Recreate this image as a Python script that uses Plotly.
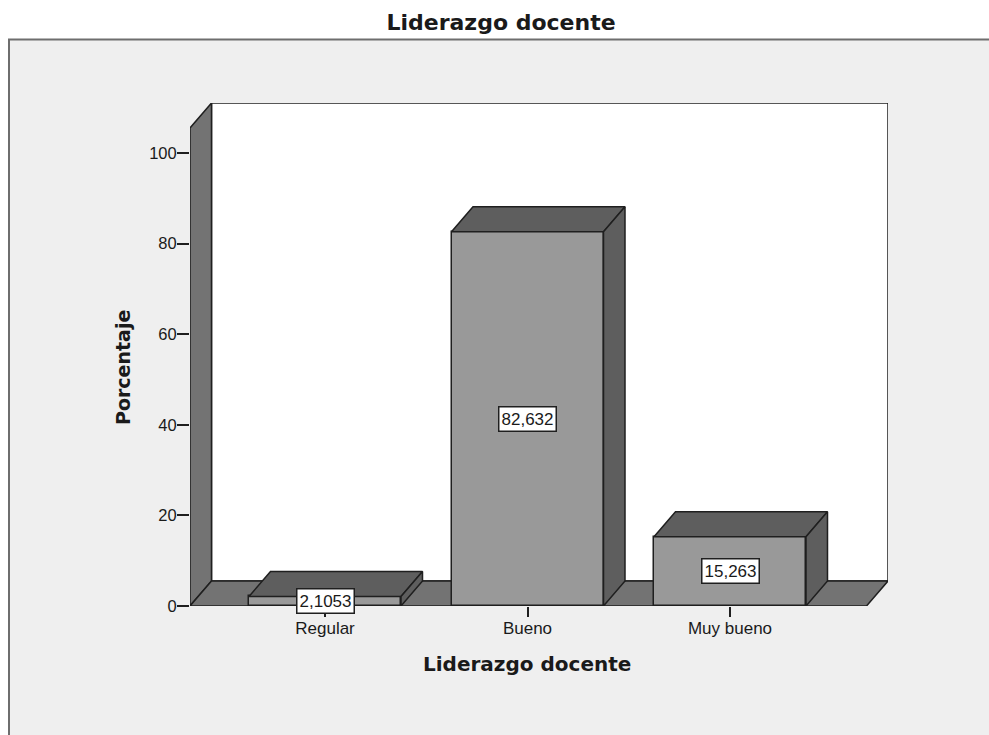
import plotly.graph_objects as go

categories = ["Regular", "Bueno", "Muy bueno"]
values = [2.1053, 82.632, 15.263]
value_labels = ["2,1053", "82,632", "15,263"]
y_ticks = [0, 20, 40, 60, 80, 100]
chart_title = "Liderazgo docente"
x_title = "Liderazgo docente"
y_title = "Porcentaje"

W, H = 989, 735
L, R, T, B = 190, 888, 103, 606
XMIN, XMAX = (190 - 325) / 202.5, (888 - 325) / 202.5
YMAX = (606 - 103) / 4.53
DX, DY = 21.5 / 202.5, 25 / 4.53
BAR_W = 152 / 202.5
WALL_TOP = YMAX - DY
FONT = "Liberation Sans"
BOLD = "DejaVu Sans"
EDGE = "#1f1f1f"
TEXT = "#1a1a1a"

def px(xp):
    return (xp - L) / (R - L)

def py(yp):
    return (B - yp) / (B - T)

def poly(pts):
    return "M" + " L".join(f"{a},{b}" for a, b in pts) + " Z"

x_pos = list(range(len(categories)))
fig = go.Figure()

fig.add_trace(go.Bar(
    x=x_pos, y=values, width=BAR_W, marker=dict(color="#999999", line=dict(color=EDGE, width=1.5)),
    showlegend=False, hoverinfo="skip"))

for xc, v in zip(x_pos, values):
    l, r = xc - BAR_W / 2, xc + BAR_W / 2
    top = [(l, v), (l + DX, v + DY), (r + DX, v + DY), (r, v), (l, v)]
    side = [(r, v), (r + DX, v + DY), (r + DX, DY), (r, 0), (r, v)]
    for pts, col in ((top, "#5e5e5e"), (side, "#5e5e5e")):
        fig.add_trace(go.Scatter(
            x=[p[0] for p in pts], y=[p[1] for p in pts], mode="lines", fill="toself",
            fillcolor=col, line=dict(color=EDGE, width=1.5), showlegend=False, hoverinfo="skip"))

line = dict(color=EDGE, width=1.5)
shapes = [
    dict(type="rect", xref="paper", yref="paper", x0=px(9), x1=px(1000), y0=py(745), y1=py(39.5),
         fillcolor="#efefef", line=dict(color="#6e6e6e", width=2), layer="below"),
    dict(type="path", xref="x", yref="y", layer="below", fillcolor="#ffffff", line=line,
         path=poly([(XMIN + DX, DY), (XMIN + DX, YMAX), (XMAX, YMAX), (XMAX, DY)])),
    dict(type="path", xref="x", yref="y", layer="below", fillcolor="#737373", line=line,
         path=poly([(XMIN, 0), (XMIN + DX, DY), (XMIN + DX, YMAX), (XMIN, WALL_TOP)])),
    dict(type="path", xref="x", yref="y", layer="below", fillcolor="#737373", line=line,
         path=poly([(XMIN, 0), (XMIN + DX, DY), (XMAX, DY), (XMAX - DX, 0)])),
]

annotations = [
    dict(text=f"<b>{x_title}</b>", xref="paper", yref="paper", x=px(527), y=py(664), showarrow=False,
         font=dict(family=BOLD, size=20, color=TEXT), xanchor="center", yanchor="middle"),
    dict(text=f"<b>{y_title}</b>", xref="paper", yref="paper", x=px(123), y=py(368), showarrow=False,
         textangle=-90, font=dict(family=BOLD, size=19, color=TEXT), xanchor="center", yanchor="middle"),
]
for xc, v, t in zip(x_pos, values, value_labels):
    annotations.append(dict(text=t, x=xc, y=v / 2, xref="x", yref="y", showarrow=False,
                            bgcolor="#ffffff", bordercolor=EDGE, borderwidth=1.5, borderpad=2,
                            font=dict(family=FONT, size=17, color=TEXT)))

fig.update_layout(
    width=W, height=H, autosize=False,
    margin=dict(l=L, r=W - R, t=T, b=H - B),
    paper_bgcolor="#ffffff", plot_bgcolor="rgba(0,0,0,0)",
    font=dict(family=FONT, color=TEXT),
    title=dict(text=f"<b>{chart_title}</b>", x=501 / W, xref="container", xanchor="center",
               y=1 - 22 / H, yref="container", yanchor="middle",
               font=dict(family=BOLD, size=22, color=TEXT)),
    xaxis=dict(range=[XMIN, XMAX], tickmode="array", tickvals=x_pos, ticktext=categories,
               ticks="outside", ticklen=10, tickwidth=1.5, tickcolor=EDGE, showgrid=False, zeroline=False,
               showline=False, ticklabelstandoff=-3, tickfont=dict(family=FONT, size=17, color=TEXT)),
    yaxis=dict(range=[0, YMAX], tickmode="array", tickvals=y_ticks, ticks="outside", ticklen=12,
               tickwidth=1.5, tickcolor=EDGE, showgrid=False, zeroline=False, showline=False,
               ticklabelstandoff=-3, tickfont=dict(family=FONT, size=16.5, color=TEXT)),
    shapes=shapes, annotations=annotations, bargap=0, showlegend=False,
)
fig.write_html("out.html", config={"displayModeBar": False},
               post_script="document.body.style.margin='0';document.documentElement.style.overflow='hidden';")
